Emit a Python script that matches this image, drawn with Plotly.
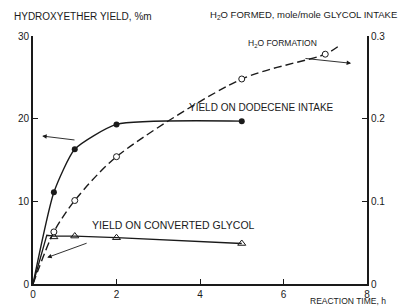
import plotly.graph_objects as go

# Reaction time, h (measured points)
time_h = [0.5, 1, 2, 5]
# Hydroxyether yield on dodecene intake, %m (filled circles)
yield_dodecene = [11.1, 16.3, 19.3, 19.7]
# Hydroxyether yield on converted glycol, %m (triangles)
yield_glycol = [5.7, 5.8, 5.6, 4.9]
# H2O formed, mole/mole glycol intake (open circles, right axis)
h2o_time = [0.5, 1, 2, 5, 7]
h2o_formed = [0.063, 0.101, 0.154, 0.248, 0.278]

# drawn curves (incl. origin)
dod_curve_x = [0, 0.5, 1, 2, 5]
dod_curve_y = [0, 11.1, 16.3, 19.3, 19.7]
gly_curve_x = [0, 0.33, 0.5, 1, 2, 5]
gly_curve_y = [0, 5.9, 5.8, 5.8, 5.6, 4.9]
h2o_curve_x = [0, 0.5, 1, 2, 5, 7, 7.3]
h2o_curve_y = [0, 0.063, 0.101, 0.154, 0.248, 0.278, 0.287]

x_ticks = [0, 2, 4, 6, 8]
y_ticks = [0, 10, 20, 30]
y2_ticks = [0, 0.1, 0.2, 0.3]
y2_labels = ["0", "0.1", "0.2", "0.3"]

INK = "#1a1a1a"
FONT = "Liberation Sans"

fig = go.Figure()
fig.add_trace(go.Scatter(x=dod_curve_x, y=dod_curve_y, mode="lines",
                         line=dict(color=INK, width=1.4, shape="spline", smoothing=0.55),
                         hoverinfo="skip"))
fig.add_trace(go.Scatter(x=time_h, y=yield_dodecene, mode="markers",
                         marker=dict(symbol="circle", size=6, color=INK)))
fig.add_trace(go.Scatter(x=gly_curve_x, y=gly_curve_y, mode="lines",
                         line=dict(color=INK, width=1.3), hoverinfo="skip"))
fig.add_trace(go.Scatter(x=time_h, y=yield_glycol, mode="markers",
                         marker=dict(symbol="triangle-up-open", size=7, color=INK,
                                     line=dict(width=1))))
fig.add_trace(go.Scatter(x=h2o_curve_x, y=h2o_curve_y, mode="lines", yaxis="y2",
                         line=dict(color=INK, width=1.4, dash="8px,4px", shape="spline",
                                   smoothing=0.8), hoverinfo="skip"))
fig.add_trace(go.Scatter(x=h2o_time, y=h2o_formed, mode="markers", yaxis="y2",
                         marker=dict(symbol="circle", size=6, color="white",
                                     line=dict(color=INK, width=1))))

axis_common = dict(showgrid=False, zeroline=False, ticks="inside", ticklen=5,
                   tickcolor=INK, tickwidth=1, showline=True, linecolor=INK,
                   automargin=False, tickfont=dict(family=FONT, size=10, color=INK))

fig.update_layout(
    width=412, height=306,
    margin=dict(l=33, r=45, t=36, b=22),
    paper_bgcolor="white", plot_bgcolor="white",
    showlegend=False,
    font=dict(family=FONT, color=INK, size=10),
    xaxis=dict(range=[0, 8], tickvals=x_ticks, linewidth=1.6, **axis_common),
    yaxis=dict(range=[0, 30], tickvals=y_ticks, linewidth=2, **axis_common),
    yaxis2=dict(range=[0, 0.3], tickvals=y2_ticks, ticktext=y2_labels, overlaying="y",
                side="right", linewidth=2, **axis_common),
)

annots = [
    dict(text="HYDROXYETHER YIELD, %m", x=12, y=17, size=10),
    dict(text="H<sub>2</sub>O FORMED, mole/mole GLYCOL INTAKE", x=208, y=15, size=9.5),
    dict(text="H<sub>2</sub>O FORMATION", x=246, y=44, size=8.5),
    dict(text="YIELD ON DODECENE INTAKE", x=187, y=108, size=10),
    dict(text="YIELD ON CONVERTED GLYCOL", x=90, y=225, size=10.5),
    dict(text="REACTION TIME, h", x=308, y=301.2, size=8.5),
]
for a in annots:
    fig.add_annotation(text=a["text"], xref="paper", yref="paper",
                       x=(a["x"] - 33) / 334, y=(284 - a["y"]) / 248,
                       xanchor="left", yanchor="middle", showarrow=False,
                       font=dict(family=FONT, size=a["size"], color=INK))

arrows = [
    dict(x=0.22, y=17.9, ax=1.03, ay=17.4),
    dict(x=7.62, y=26.7, ax=6.49, ay=27.3),
    dict(x=0.34, y=3.2, ax=1.32, ay=5.0),
]
for a in arrows:
    fig.add_annotation(x=a["x"], y=a["y"], ax=a["ax"], ay=a["ay"], xref="x", yref="y",
                       axref="x", ayref="y", text="", showarrow=True, arrowhead=2,
                       arrowsize=1, arrowwidth=0.9, arrowcolor=INK)

fig.write_html("out.html",
               config={"displayModeBar": False},
               post_script="document.body.style.margin='0px';"
                           "document.body.style.overflow='hidden';")
